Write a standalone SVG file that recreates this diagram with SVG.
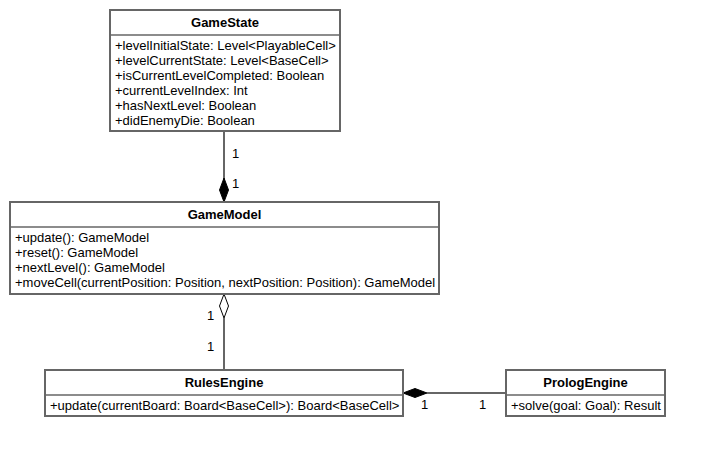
<svg xmlns="http://www.w3.org/2000/svg" width="704" height="457" viewBox="0 0 704 457">
<style>
.box{fill:#fff;stroke:#666;stroke-width:2}
.div{stroke:#666;stroke-width:1.5}
.t{font-family:"Liberation Sans",Arial,sans-serif;font-size:13px;fill:#000}
.b{font-weight:bold;text-anchor:middle}
.edge{stroke:#666;stroke-width:2;fill:none}
</style>
<rect width="704" height="457" fill="#fff"/>
<g id="connectors">
<line class="edge" x1="224" y1="131" x2="224" y2="180"/>
<polygon points="224,178 228.5,190 224,202 219.5,190" fill="#000" stroke="#000" stroke-width="1"/>
<text class="t" x="232" y="158">1</text>
<text class="t" x="232" y="188">1</text>
<line class="edge" x1="224" y1="318" x2="224" y2="370"/>
<polygon points="224,294 228.5,306 224,318 219.5,306" fill="#fff" stroke="#000" stroke-width="1"/>
<text class="t" x="207" y="320">1</text>
<text class="t" x="207" y="351">1</text>
<line class="edge" x1="427" y1="393" x2="506" y2="393"/>
<polygon points="403,393 415,388.5 427,393 415,397.5" fill="#000" stroke="#000" stroke-width="1"/>
<text class="t" x="421" y="409">1</text>
<text class="t" x="479" y="409">1</text>
</g>
<g id="GameState">
<rect class="box" x="110" y="10" width="230" height="121"/>
<line class="div" x1="110" y1="35" x2="340" y2="35"/>
<text class="t b" x="225" y="27">GameState</text>
<text class="t" x="115" y="50">+levelInitialState: Level&lt;PlayableCell&gt;</text>
<text class="t" x="115" y="65">+levelCurrentState: Level&lt;BaseCell&gt;</text>
<text class="t" x="115" y="80">+isCurrentLevelCompleted: Boolean</text>
<text class="t" x="115" y="95">+currentLevelIndex: Int</text>
<text class="t" x="115" y="110">+hasNextLevel: Boolean</text>
<text class="t" x="115" y="125">+didEnemyDie: Boolean</text>
</g>
<g id="GameModel">
<rect class="box" x="10" y="202" width="429" height="92"/>
<line class="div" x1="10" y1="227" x2="439" y2="227"/>
<text class="t b" x="224.5" y="219">GameModel</text>
<text class="t" x="15" y="242">+update(): GameModel</text>
<text class="t" x="15" y="257">+reset(): GameModel</text>
<text class="t" x="15" y="272">+nextLevel(): GameModel</text>
<text class="t" x="15" y="287">+moveCell(currentPosition: Position, nextPosition: Position): GameModel</text>
</g>
<g id="RulesEngine">
<rect class="box" x="45" y="370" width="358" height="46"/>
<line class="div" x1="45" y1="395" x2="403" y2="395"/>
<text class="t b" x="224" y="387">RulesEngine</text>
<text class="t" x="50" y="410">+update(currentBoard: Board&lt;BaseCell&gt;): Board&lt;BaseCell&gt;</text>
</g>
<g id="PrologEngine">
<rect class="box" x="506" y="370" width="159" height="46"/>
<line class="div" x1="506" y1="395" x2="665" y2="395"/>
<text class="t b" x="585.5" y="387">PrologEngine</text>
<text class="t" x="511" y="410">+solve(goal: Goal): Result</text>
</g>
</svg>
